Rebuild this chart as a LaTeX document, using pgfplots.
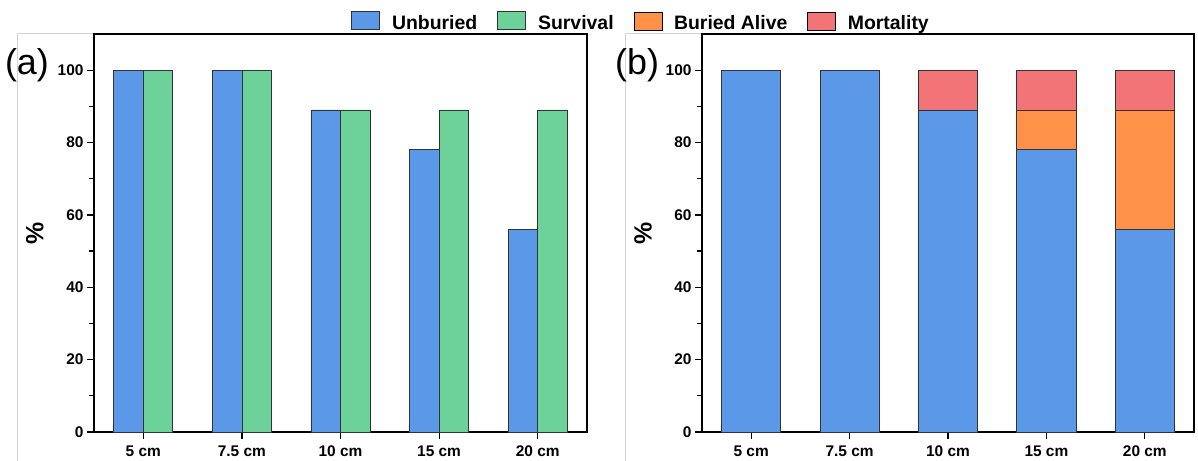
\documentclass[border=0pt]{standalone}
\usepackage{fontspec}
\setmainfont{Liberation Sans}
\usepackage{pgfplots}
\pgfplotsset{compat=1.18}
\definecolor{cblue}{HTML}{5B99E8}
\definecolor{cgreen}{HTML}{6DD19A}
\definecolor{corange}{HTML}{FF9149}
\definecolor{cred}{HTML}{F27477}
\definecolor{edge}{HTML}{333333}
\pgfplotsset{
  panel/.style={
    scale only axis, width=492bp, height=398bp, anchor=south west,
    clip=false,
    xmin=-0.5, xmax=4.5, ymin=0, ymax=110,
    xtick={0,1,2,3,4},
    xticklabels={5 cm,7.5 cm,10 cm,15 cm,20 cm},
    ytick={0,20,40,60,80,100}, minor ytick={10,30,50,70,90},
    tick align=outside, tick pos=left,
    major tick length=7bp, minor tick length=5bp,
    axis line style={line width=1.3bp},
    every tick/.style={black, line width=1.2bp},
    /pgf/number format/assume math mode=true,
    ticklabel style={font=\bfseries\fontsize{15.5}{18}\selectfont},
    xticklabel style={yshift=-3bp},
    ylabel={\%},
    ylabel style={at={(axis description cs:-0.12,0.5)}, anchor=center, font=\bfseries\fontsize{25}{25}\selectfont},
  }
}
\begin{document}
\begin{tikzpicture}
\useasboundingbox (0bp,0bp) rectangle (1198bp,461bp);
\draw[gray!35, line width=0.8bp] (17bp,0bp) -- (17bp,428bp) -- (94bp,428bp);
\draw[gray!35, line width=0.8bp] (625bp,0bp) -- (625bp,428bp) -- (702bp,428bp);
\begin{axis}[panel, at={(94bp,29bp)}, width=493bp,
  ybar=0pt, bar width=0.3,
  legend columns=4,
  legend style={at={(axis description cs:1.1075,1.0327)}, anchor=center, draw=none, fill=none,
    font=\bfseries\fontsize{19.5}{20}\selectfont,
    /tikz/every odd column/.append style={column sep=12bp},
    /tikz/every even column/.append style={column sep=20bp},
    nodes={inner xsep=0bp, inner ysep=0bp}},
  legend image code/.code={\fill[#1] (0bp,-7bp) rectangle (28bp,11bp);},
]
\addplot[fill=cblue, draw=edge, line width=0.8bp, bar shift=-0.15] coordinates {(0,100) (1,100) (2,89) (3,78) (4,56)};
\addlegendentry{Unburied}
\addplot[fill=cgreen, draw=edge, line width=0.8bp, bar shift=0.15] coordinates {(0,100) (1,100) (2,89) (3,89) (4,89)};
\addlegendentry{Survival}
\addlegendimage{fill=corange}
\addlegendentry{Buried Alive}
\addlegendimage{fill=cred}
\addlegendentry{Mortality}
\node[font=\fontsize{36}{36}\selectfont] at (axis description cs:-0.136,0.922) {(a)};
\end{axis}
\begin{axis}[panel, at={(702bp,29bp)}, width=492bp,
  ybar stacked, bar width=0.6,
]
\addplot[fill=cblue, draw=edge, line width=0.8bp] coordinates {(0,100) (1,100) (2,89) (3,78) (4,56)};
\addplot[fill=corange, draw=edge, line width=0.8bp] coordinates {(0,0) (1,0) (2,0) (3,11) (4,33)};
\addplot[fill=cred, draw=edge, line width=0.8bp] coordinates {(0,0) (1,0) (2,11) (3,11) (4,11)};
\node[font=\fontsize{36}{36}\selectfont] at (axis description cs:-0.132,0.922) {(b)};
\end{axis}
\end{tikzpicture}
\end{document}
